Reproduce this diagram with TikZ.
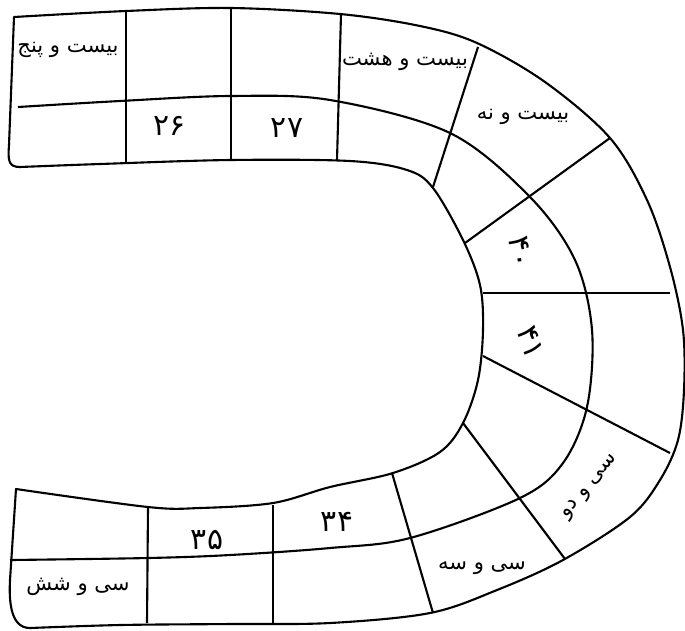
\documentclass[tikz,border=0pt]{standalone}
\usepackage{fontspec}
\usepackage{tikz}
\newfontfamily\farsi[Script=Arabic]{DejaVu Sans}
\TeXXeTstate=1

\begin{document}
\begin{tikzpicture}[
        x=0.02cm, y=-0.02cm,
        band/.style={line width=1.2pt, line join=round},
        wall/.style={line width=1.2pt},
        word/.style={font=\farsi\fontsize{12}{14}\selectfont, inner sep=1pt},
        digit/.style={font=\farsi\fontsize{17}{20}\selectfont, inner sep=1pt}
    ]
    \useasboundingbox (0,0) rectangle (685,630);
    % contour du fer a cheval
    \draw[band] (14,17)
        -- plot[smooth, tension=0.55] coordinates {(14,17) (126,11) (231,8) (340,14) (420,26) (477,43) (545,82) (610,138) (647,200) (670,267) (683,330) (684,390) (678,440) (660,480) (630,517) (563,560) (497,590) (430,613) (330,623) (230,624) (120,625) (30,628)}
        .. controls (10,628) and (9,600) .. (10,580) -- (16,489)
        -- plot[smooth, tension=0.55] coordinates {(16,489) (148,507) (200,508) (273,503) (330,487) (393,473) (440,452) (463,423) (478,380) (483,330) (480,285) (463,240) (433,188) (407,170) (350,161) (230,160) (100,164) (20,167)}
        .. controls (8,167) and (8,160) .. (9,145) -- cycle;
    % ligne du milieu
    \draw[band] plot[smooth, tension=0.55] coordinates {(18,107) (120,101) (230,96) (330,100) (450,133) (530,197) (575,260) (592,330) (587,407) (563,463) (520,498) (410,538) (330,548) (230,555) (148,558) (10,560)};
    % separations des cases
    \draw[wall] (126,10) -- (126,163);
    \draw[wall] (231,8) -- (231,160);
    \draw[wall] (341,14) -- (337,160);
    \draw[wall] (478,47) -- (433,187);
    \draw[wall] (610,138) -- (465,243);
    \draw[wall] (483,293) -- (670,293);
    \draw[wall] (483,356) -- (670,453);
    \draw[wall] (463,423) -- (565,559);
    \draw[wall] (392,473) -- (433,613);
    \draw[wall] (273,505) -- (273,623);
    \draw[wall] (148,507) -- (147,623);
    % etiquettes
    \node[word] (l25) at (68,50) {\farsi\beginR بیست و پنج\endR};
    \node[digit] (l26) at (170,126) {۲۶};
    \node[digit] (l27) at (287,128) {۲۷};
    \node[word] (l28) at (405,62) {\farsi\beginR بیست و هشت\endR};
    \node[word] (l29) at (523,117) {\farsi\beginR بیست و نه\endR};
    \node[digit, rotate=-82] (l40) at (520,252) {۴۰};
    \node[digit, rotate=-70] (l41) at (531,342) {۴۱};
    \node[word, rotate=50] (l32) at (590,487) {\farsi\beginR سی و دو\endR};
    \node[word] (l33) at (482,568) {\farsi\beginR سی و سه\endR};
    \node[digit] (l34) at (337,522) {۳۴};
    \node[digit] (l35) at (207,540) {۳۵};
    \node[word] (l36) at (78,587) {\farsi\beginR سی و شش\endR};
\end{tikzpicture}
\end{document}
